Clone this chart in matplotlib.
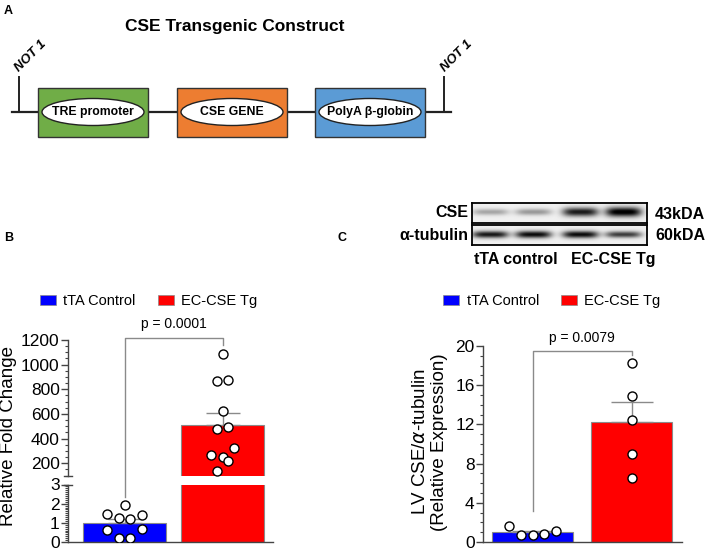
import numpy as np
import matplotlib
matplotlib.use("Agg")
import matplotlib.pyplot as plt
from matplotlib.patches import Rectangle, Ellipse, Patch
from matplotlib.lines import Line2D
from matplotlib.ticker import MultipleLocator

plt.rcParams['font.family'] = ['Liberation Sans', 'DejaVu Sans']

# ---- data ----
groups = ["tTA Control", "EC-CSE Tg"]
group_colors = ["#0000FF", "#FF0000"]

# panel B: qPCR relative fold change
fold_ctrl = [1.94, 1.44, 1.27, 1.18, 1.41, 0.65, 0.70, 0.21, 0.21]
fold_tg = [1084, 868, 878, 627, 478, 492, 324, 265, 251, 216, 141]
fold_p = "p = 0.0001"

# panel C: western blot densitometry
wb_ctrl = [1.62, 0.74, 0.68, 0.81, 1.08]
wb_tg = [18.3, 14.9, 12.5, 8.95, 6.5]
wb_p = "p = 0.0079"

# blot band intensities (4 lanes: 2 control, 2 Tg)
cse_bands = [0.30, 0.35, 0.85, 1.00]
tub_bands = [0.85, 0.90, 0.90, 0.70]
blot_rows = ["CSE", "α-tubulin"]
blot_kda = ["43kDA", "60kDA"]
blot_lanes = ["tTA control", "EC-CSE Tg"]

# construct elements
construct_parts = ["TRE promoter", "CSE GENE", "PolyA β-globin"]
construct_colors = ["#70AD47", "#ED7D31", "#5B9BD5"]

# jitter offsets (x, in bar units) for the dots
jit_fold_ctrl = [0, -0.18, -0.06, 0.06, 0.18, -0.18, 0.18, -0.06, 0.06]
jit_fold_tg = [0, -0.06, 0.06, 0, -0.06, 0.06, 0.12, -0.12, 0, 0.06, -0.06]
jit_wb_ctrl = [-0.235, -0.117, 0, 0.117, 0.237]
jit_wb_tg = [0, 0, 0, 0, 0]

W, H = 709, 550
fig = plt.figure(figsize=(W / 100, H / 100), dpi=100, facecolor="white")


def box(x0, y0, x1, y1):
    return [x0 / W, 1 - y1 / H, (x1 - x0) / W, (y1 - y0) / H]


def fx(x):
    return x / W


def fy(y):
    return 1 - y / H


def to_fig(ax, x, y):
    return fig.transFigure.inverted().transform(ax.transData.transform((x, y)))


def mean_sem(v):
    v = np.asarray(v, float)
    return v.mean(), v.std(ddof=1) / np.sqrt(len(v))


GREY = "#8a8a8a"
SPINE = "#444444"

# ---- panel A: construct schematic (pixel coords) ----
axA = fig.add_axes(box(0, 0, W, 170))
axA.set_xlim(0, W)
axA.set_ylim(170, 0)
axA.axis("off")
axA.text(235, 27, "CSE Transgenic Construct", ha="center", va="center",
         fontsize=12.5, fontweight="bold")
axA.plot([12, 451], [112, 112], color="#222222", lw=1.6, zorder=1)
for xv, xt in [(19, 31), (444, 457)]:
    axA.plot([xv, xv], [77, 112], color="#222222", lw=1.4)
    axA.text(xt, 56, "NOT 1", rotation=45, ha="center", va="center",
             fontsize=9.5, fontweight="bold", style="italic")
part_x = [38, 177, 315]
for lbl, col, x0 in zip(construct_parts, construct_colors, part_x):
    axA.add_patch(Rectangle((x0, 88), 110, 49, facecolor=col,
                            edgecolor="#333333", lw=1, zorder=2))
    axA.add_patch(Ellipse((x0 + 55, 112), 102, 27, facecolor="white",
                          edgecolor="#222222", lw=1, zorder=3))
    axA.text(x0 + 55, 112, lbl, ha="center", va="center", fontsize=8.8,
             fontweight="bold", zorder=4)

# panel letters
fig.text(fx(4), fy(11), "A", fontsize=9, fontweight="bold", va="center")
fig.text(fx(4), fy(238), "B", fontsize=9, fontweight="bold", va="center")
fig.text(fx(338), fy(238), "C", fontsize=9, fontweight="bold", va="center")

# ---- western blot ----
def band_img(vals, yc, thick):
    w, h = 175, 20
    xs = np.arange(w)[None, :]
    ys = np.arange(h)[:, None]
    lane_c = [18, 61, 108, 151]
    img = np.full((h, w), 0.06)
    for c, v in zip(lane_c, vals):
        t = thick * (0.5 + 0.5 * v)
        img += v * np.exp(-((xs - c) / 18.0) ** 4) * np.exp(-((ys - yc) / t) ** 2)
    return 1 - np.clip(img, 0, 1)


for i, (vals, y0) in enumerate([(cse_bands, 203), (tub_bands, 225)]):
    axw = fig.add_axes(box(472, y0, 647, y0 + 20))
    axw.imshow(band_img(vals, 9, 4.5 if i == 0 else 3.8), cmap="gray",
               vmin=0, vmax=1, aspect="auto", interpolation="bilinear")
    axw.set_xticks([])
    axw.set_yticks([])
    for s in axw.spines.values():
        s.set_linewidth(1.3)
        s.set_color("black")
    fig.text(fx(468), fy(y0 + 10), blot_rows[i], ha="right", va="center",
             fontsize=11.5, fontweight="bold")
    fig.text(fx(655), fy(y0 + 11), blot_kda[i], ha="left", va="center",
             fontsize=11.5, fontweight="bold")
fig.text(fx(516), fy(260), blot_lanes[0], ha="center", va="center",
         fontsize=11.5, fontweight="bold")
fig.text(fx(613), fy(260), blot_lanes[1], ha="center", va="center",
         fontsize=11.5, fontweight="bold")


def style_axis(ax):
    ax.spines[["top", "right"]].set_visible(False)
    for s in ax.spines.values():
        s.set_color(SPINE)
        s.set_linewidth(1)
    ax.tick_params(axis="y", which="major", length=5, width=1, colors=SPINE,
                   labelcolor="black", labelsize=12.5, pad=1)
    ax.tick_params(axis="y", which="minor", length=2.5, width=0.8, colors=SPINE)
    ax.set_xticks([])


def draw_group(ax, ctrl, tg, jc, jt, width, cap):
    m = [mean_sem(ctrl), mean_sem(tg)]
    xpos = [0, 1]
    ax.bar(xpos, [m[0][0], m[1][0]], width=width, color=group_colors,
           edgecolor=GREY, lw=0.8, zorder=1)
    ax.errorbar(xpos, [m[0][0], m[1][0]],
                yerr=[[0, 0], [m[0][1], m[1][1]]], fmt="none", ecolor=GREY,
                elinewidth=1, capsize=cap, capthick=1, zorder=2)
    for x0, vals, jit in [(0, ctrl, jc), (1, tg, jt)]:
        ax.plot(x0 + np.array(jit), vals, "o", ms=6.5, mfc="white", mec="black",
                mew=1, zorder=3, linestyle="none")


def legend_at(xc, yc):
    handles = [Patch(facecolor=c, edgecolor=GREY, lw=0.5) for c in group_colors]
    fig.legend(handles, groups, loc="center", bbox_to_anchor=(fx(xc), fy(yc)),
               ncol=2, frameon=False, fontsize=10.5, handlelength=1.1,
               handleheight=0.7, handletextpad=0.5, columnspacing=1.5,
               borderaxespad=0, borderpad=0)


BOT = 542

# ---- panel B: broken axis ----
axU = fig.add_axes(box(68, 340, 273, 475.6))
axL = fig.add_axes(box(68, 484.5, 273, BOT))
for ax in (axU, axL):
    ax.set_xlim(-0.577, 1.515)
    style_axis(ax)
    draw_group(ax, fold_ctrl, fold_tg, jit_fold_ctrl, jit_fold_tg, 0.847, 12)
axU.set_ylim(100, 1200)
axU.spines["bottom"].set_visible(False)
axU.set_yticks([200, 400, 600, 800, 1000, 1200])
axU.yaxis.set_minor_locator(MultipleLocator(50))
axL.set_ylim(0, 3)
axL.set_yticks([0, 1, 2, 3])
axL.yaxis.set_minor_locator(MultipleLocator(0.1))
axL.tick_params(axis="x", length=0)

# break marks on the y spine
for ax, yv in [(axU, 100), (axL, 3)]:
    a = to_fig(ax, -0.577, yv)
    fig.add_artist(Line2D([a[0] - fx(4), a[0] + fx(4)], [a[1], a[1]],
                          color=SPINE, lw=1))

fig.text(fx(9), fy(436), "Relative Fold Change", rotation=90, ha="center",
         va="center", fontsize=13.5)
legend_at(148.5, 301)

# bracket B
p1 = to_fig(axL, 0, 2.37)
p2 = to_fig(axU, 0, 1216)
p3 = to_fig(axU, 1, 1216)
p4 = to_fig(axU, 1, 1160)
fig.add_artist(Line2D([p1[0], p2[0], p3[0], p4[0]], [p1[1], p2[1], p3[1], p4[1]],
                      color=GREY, lw=1))
pt = to_fig(axU, 0.5, 1330)
fig.text(pt[0], pt[1], fold_p, ha="center", va="center", fontsize=10)

# ---- panel C ----
axC = fig.add_axes(box(483, 346, 682, BOT))
axC.set_xlim(-0.5, 1.51)
style_axis(axC)
draw_group(axC, wb_ctrl, wb_tg, jit_wb_ctrl, jit_wb_tg, 0.82, 15)
axC.set_ylim(0, 20)
axC.set_yticks([0, 4, 8, 12, 16, 20])
axC.yaxis.set_minor_locator(MultipleLocator(1))
axC.tick_params(axis="x", length=0)
axC.plot([0, 0, 1, 1], [3.2, 19.5, 19.5, 19.1], color=GREY, lw=1, clip_on=False)
axC.text(0.5, 20.8, wb_p, ha="center", va="center", fontsize=10, clip_on=False)
fig.text(fx(430), fy(442), "LV CSE/$\\alpha$-tubulin\n(Relative Expression)",
         rotation=90, ha="center", va="center", fontsize=13.5,
         multialignment="center", linespacing=1.1)
legend_at(552, 301)

fig.savefig("out.png", dpi=100, facecolor="white")
